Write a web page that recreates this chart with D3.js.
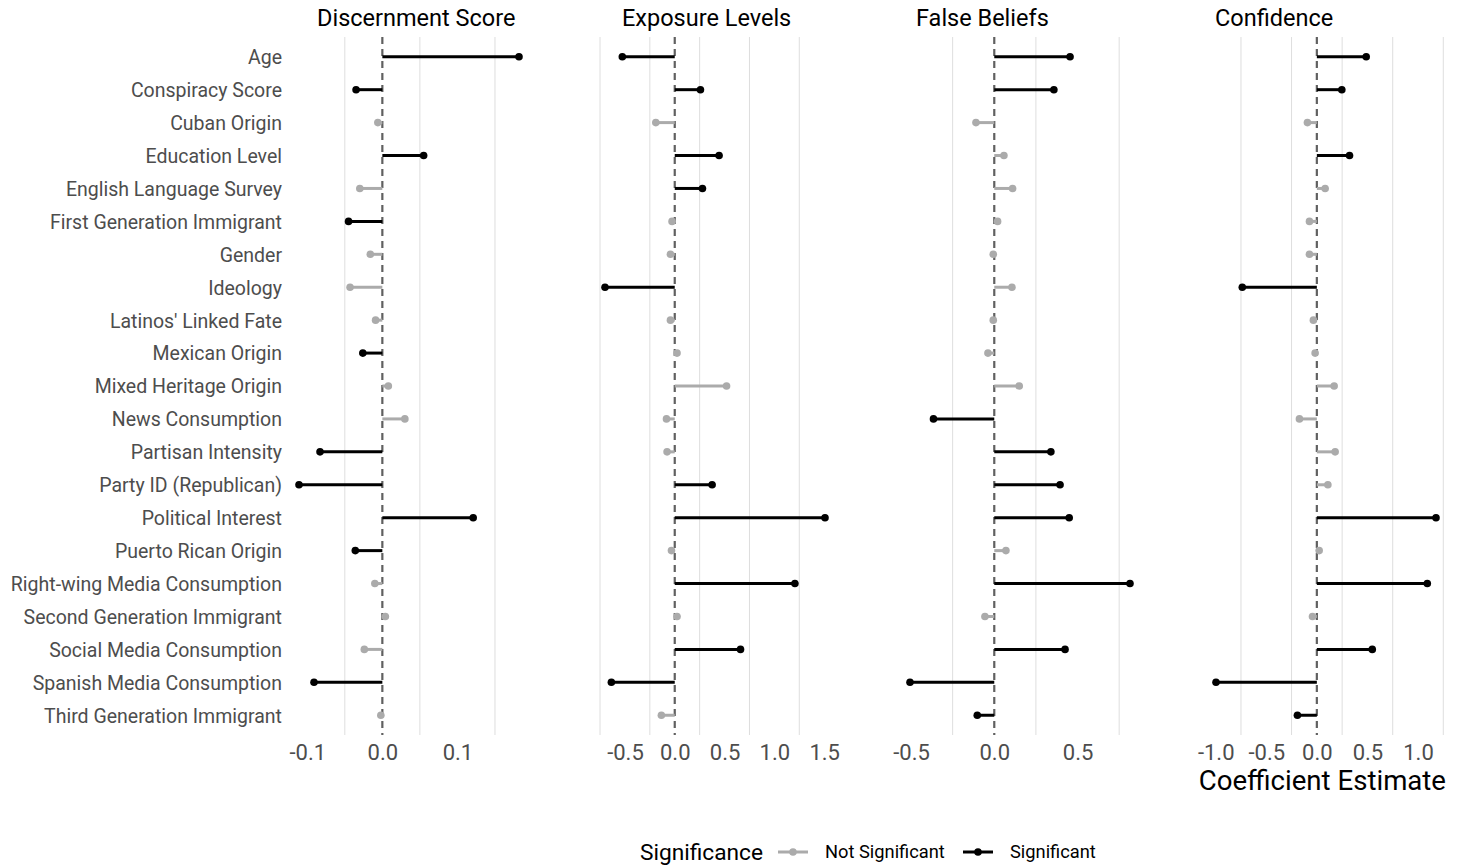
<!DOCTYPE html>
<html>
<head>
<meta charset="utf-8">
<script src="https://cdn.jsdelivr.net/npm/d3@7"></script>
<style>
  body { margin: 0; background: #fff; }
  text { font-family: Roboto, "Noto Sans", sans-serif; }
</style>
</head>
<body>
<div id="chart"></div>
<script>
// predictors, top to bottom
const predictors = [
    "Age", "Conspiracy Score", "Cuban Origin", "Education Level", "English Language Survey",
    "First Generation Immigrant", "Gender", "Ideology", "Latinos' Linked Fate", "Mexican Origin",
    "Mixed Heritage Origin", "News Consumption", "Partisan Intensity", "Party ID (Republican)",
    "Political Interest", "Puerto Rican Origin", "Right-wing Media Consumption",
    "Second Generation Immigrant", "Social Media Consumption", "Spanish Media Consumption",
    "Third Generation Immigrant"
];

const outcomes = ["Discernment Score", "Exposure Levels", "False Beliefs", "Confidence"];

// coefficient estimates, same order as predictors
const discernment = [0.182, -0.035, -0.006, 0.055, -0.030, -0.045, -0.016, -0.043, -0.009, -0.026,
    0.008, 0.030, -0.083, -0.111, 0.121, -0.036, -0.010, 0.004, -0.024, -0.091, -0.002];
const exposure = [-0.526, 0.258, -0.190, 0.445, 0.278, -0.027, -0.043, -0.700, -0.043, 0.023,
    0.520, -0.083, -0.077, 0.375, 1.508, -0.033, 1.206, 0.023, 0.660, -0.636, -0.134];
const falseBeliefs = [0.455, 0.358, -0.110, 0.058, 0.110, 0.020, -0.006, 0.106, -0.006, -0.038,
    0.150, -0.365, 0.340, 0.395, 0.450, 0.070, 0.815, -0.056, 0.425, -0.506, -0.102];
const confidence = [0.488, 0.247, -0.093, 0.323, 0.082, -0.073, -0.073, -0.737, -0.034, -0.017,
    0.171, -0.172, 0.181, 0.109, 1.178, 0.023, 1.092, -0.043, 0.548, -0.997, -0.192];

// 1 = significant, 0 = not significant
const sigDiscernment = [1,1,0,1,0,1,0,0,0,1,0,0,1,1,1,1,0,0,0,1,0];
const sigExposure    = [1,1,0,1,1,0,0,1,0,0,0,0,0,1,1,0,1,0,1,1,0];
const sigFalse       = [1,1,0,0,0,0,0,0,0,0,0,1,1,1,1,0,1,0,1,1,1];
const sigConfidence  = [1,1,0,1,0,0,0,1,0,0,0,0,0,0,1,0,1,0,1,1,1];

const tickValues = [
    [-0.1, 0.0, 0.1],
    [-0.5, 0.0, 0.5, 1.0, 1.5],
    [-0.5, 0.0, 0.5],
    [-1.0, -0.5, 0.0, 0.5, 1.0]
];

const legendLabels = ["Not Significant", "Significant"];

const estimates = [discernment, exposure, falseBeliefs, confidence];
const significance = [sigDiscernment, sigExposure, sigFalse, sigConfidence];

const width = 1457, height = 866;
const panelLeft = [288, 594, 899, 1205];
const panelWidth = 242;
const titleX = [317, 622, 916, 1215];
const panelTop = 37, panelBottom = 735;
const colors = { 0: "#ababab", 1: "#000000" };

const svg = d3.select("#chart").append("svg")
    .attr("width", width)
    .attr("height", height);

const y = d3.scalePoint()
    .domain(predictors)
    .range([panelTop, panelBottom])
    .padding(0.6);

// y axis labels (only on first panel)
svg.append("g")
    .selectAll("text")
    .data(predictors)
    .join("text")
    .attr("x", 282)
    .attr("y", d => y(d))
    .attr("dy", "0.38em")
    .attr("text-anchor", "end")
    .style("font-size", "19.5px")
    .style("fill", "#4d4d4d")
    .text(d => d);

outcomes.forEach((name, p) => {
    const vals = estimates[p];
    const sig = significance[p];
    const lo = d3.min(vals), hi = d3.max(vals);
    const pad = (hi - lo) * 0.05;

    const x = d3.scaleLinear()
        .domain([lo - pad, hi + pad])
        .range([panelLeft[p], panelLeft[p] + panelWidth]);

    const g = svg.append("g");

    // minor grid lines halfway between breaks
    const ticks = tickValues[p];
    const stepT = ticks[1] - ticks[0];
    const minor = [];
    for (let t = ticks[0] - stepT / 2; t <= hi + pad; t += stepT) {
        if (t >= lo - pad) minor.push(t);
    }
    g.selectAll(".grid")
        .data(minor)
        .join("line")
        .attr("x1", d => x(d)).attr("x2", d => x(d))
        .attr("y1", panelTop).attr("y2", panelBottom)
        .attr("stroke", "#dedede")
        .attr("stroke-width", 1);

    // zero reference line
    g.append("line")
        .attr("x1", x(0)).attr("x2", x(0))
        .attr("y1", panelTop).attr("y2", panelBottom)
        .attr("stroke", "#606060")
        .attr("stroke-width", 2.2)
        .attr("stroke-dasharray", "7,5");

    const rows = predictors.map((d, i) => ({ name: d, value: vals[i], sig: sig[i] }));

    g.selectAll(".seg")
        .data(rows)
        .join("line")
        .attr("x1", x(0))
        .attr("x2", d => x(d.value))
        .attr("y1", d => y(d.name))
        .attr("y2", d => y(d.name))
        .attr("stroke", d => colors[d.sig])
        .attr("stroke-width", 3);

    g.selectAll(".pt")
        .data(rows)
        .join("circle")
        .attr("cx", d => x(d.value))
        .attr("cy", d => y(d.name))
        .attr("r", 3.8)
        .attr("fill", d => colors[d.sig]);

    // x axis tick labels
    const axis = g.append("g")
        .attr("transform", `translate(0,${panelBottom})`)
        .call(d3.axisBottom(x).tickValues(ticks).tickFormat(d3.format(".1f")).tickSize(0).tickPadding(9));
    axis.select(".domain").remove();
    axis.selectAll("text")
        .style("font-family", "Roboto, sans-serif")
        .style("font-size", "22px")
        .style("fill", "#4d4d4d")
        .text(d => d3.format(".1f")(d).replace("−", "-"));

    // panel title
    svg.append("text")
        .attr("x", titleX[p])
        .attr("y", 26)
        .style("font-size", "23.5px")
        .style("fill", "#000")
        .text(name);
});

// x axis title on last panel
svg.append("text")
    .attr("x", 1446)
    .attr("y", 790)
    .attr("text-anchor", "end")
    .style("font-size", "27.6px")
    .style("fill", "#000")
    .text("Coefficient Estimate");

// legend
const legend = svg.append("g");
legend.append("text")
    .attr("x", 640)
    .attr("y", 860)
    .style("font-size", "22.7px")
    .style("fill", "#000")
    .text("Significance");

const keyX = [778, 963];
legendLabels.forEach((lab, i) => {
    legend.append("line")
        .attr("x1", keyX[i]).attr("x2", keyX[i] + 30)
        .attr("y1", 852).attr("y2", 852)
        .attr("stroke", colors[i])
        .attr("stroke-width", 3);
    legend.append("circle")
        .attr("cx", keyX[i] + 15).attr("cy", 852)
        .attr("r", 3.8)
        .attr("fill", colors[i]);
    legend.append("text")
        .attr("x", keyX[i] + 47)
        .attr("y", 858)
        .style("font-size", "18.3px")
        .style("fill", "#000")
        .text(lab);
});
</script>
</body>
</html>
